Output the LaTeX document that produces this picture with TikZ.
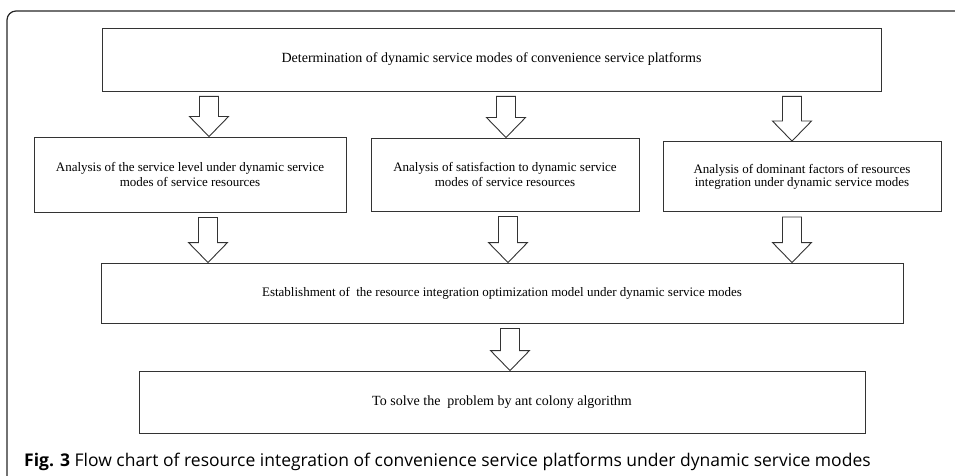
\documentclass[tikz,border=0pt]{standalone}
\usepackage{fontspec}
\setmainfont{Liberation Serif}
\newfontfamily\capfont{Open Sans}
\usetikzlibrary{calc}
\tikzstyle{every node}=[font=\fontsize{13}{15.5}\selectfont]
\tikzstyle{block} = [rectangle, draw=black!80, line width=0.9pt, align=center, inner sep=0pt]
\tikzstyle{hollow} = [draw=black!80, line width=0.9pt, fill=white]
\tikzstyle{frame} = [draw=black!85, line width=1.2pt, rounded corners=9pt]
% hollow block arrow: #1 = x, from node #2 down to node #3
\newcommand{\hollowdown}[3]{%
  \path [hollow] let \p1=(#2.south), \p2=(#3.north) in
    ({#1pt-9.5pt},{\y1-5pt}) -- ({#1pt+9.5pt},{\y1-5pt}) -- ({#1pt+9.5pt},{\y2+20pt})
    -- ({#1pt+19.5pt},{\y2+20pt}) -- (#1pt,\y2) -- ({#1pt-19.5pt},{\y2+20pt})
    -- ({#1pt-9.5pt},{\y2+20pt}) -- cycle;}

\begin{document}
\begin{tikzpicture}[x=1pt, y=-1pt]
    \clip (0,0) rectangle (955,476);
    \path [frame] (7,11) rectangle (980,490);
    % Place nodes
    \node [block, minimum width=779pt, minimum height=63pt, font=\fontsize{14}{16}\selectfont] (determ) at (491.5,59.5) {Determination of dynamic service modes of convenience service platforms};
    \node [block, minimum width=312pt, minimum height=75pt] (level) at (190,174.5) {Analysis of the service level under dynamic service\\modes of service resources};
    \node [block, minimum width=268pt, minimum height=73pt] (satisf) at (505,174.5) {Analysis of satisfaction to dynamic service\\modes of service resources};
    \node [block, minimum width=278pt, minimum height=70pt, font=\fontsize{13}{13}\selectfont] (factors) at (802,176.5) {Analysis of dominant factors of resources\\integration under dynamic service modes};
    \node [block, minimum width=802pt, minimum height=60pt] (model) at (502,293) {Establishment of\ \ the resource integration optimization model under dynamic service modes};
    \node [block, minimum width=726pt, minimum height=62pt, font=\fontsize{14}{16}\selectfont] (solve) at (502,402) {To solve the\ \ problem by ant colony algorithm};
    \node [anchor=base west, inner sep=0pt, font=\capfont\fontsize{17.5}{20}\selectfont] (caption) at (24,466) {\textbf{Fig. 3} Flow chart of resource integration of convenience service platforms under dynamic service modes};
    % Draw edges
    \hollowdown{209}{determ}{level}
    \hollowdown{506}{determ}{satisf}
    \hollowdown{792}{determ}{factors}
    \hollowdown{208}{level}{model}
    \hollowdown{508}{satisf}{model}
    \hollowdown{792}{factors}{model}
    \hollowdown{510}{model}{solve}
\end{tikzpicture}
\end{document}
